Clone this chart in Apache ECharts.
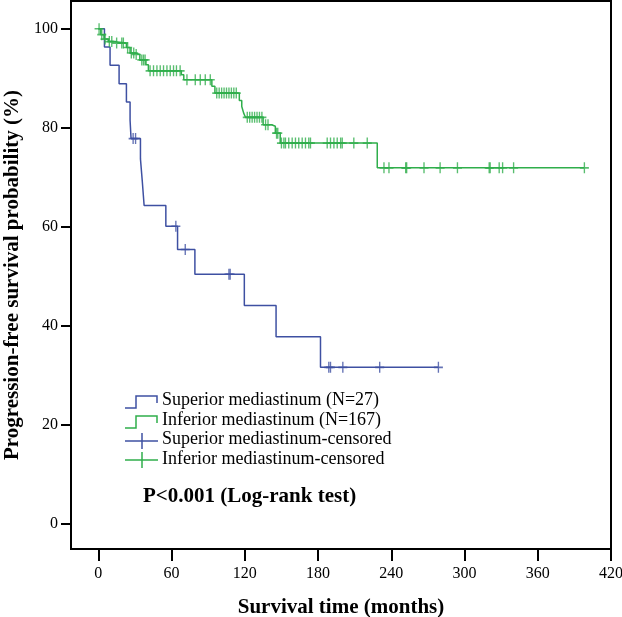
<!DOCTYPE html>
<html>
<head>
<meta charset="utf-8">
<script src="https://cdn.jsdelivr.net/npm/echarts@6/dist/echarts.min.js"></script>
<style>
html,body{margin:0;padding:0;background:#fff;}
#c{width:622px;height:617px;}
</style>
</head>
<body>
<div id="c"></div>
<script>
// ---- data (months, survival %) ----
const xTicks = [0, 60, 120, 180, 240, 300, 360, 420];
const yTicks = [0, 20, 40, 60, 80, 100];

// Superior mediastinum (N=27): event times and survival after each event
const supTimes = [0, 5, 9.6, 17, 23, 26, 26.8, 34.5, 36, 37.5, 55.3, 64.9, 79.1, 119.6, 145.6, 182];
const supSurv  = [100, 96.3, 92.6, 88.9, 85.2, 81.5, 77.8, 73.7, 69.2, 64.3, 60.1, 55.4, 50.4, 44.1, 37.8, 31.6];
const supCensored = [28.5, 30.5, 63.5, 71.2, 107, 108, 188.8, 190.2, 200.3, 230.5, 278.6];

// Inferior mediastinum (N=167)
const infTimes = [0, 2, 4.7, 8.2, 12, 23, 26, 30, 34, 39, 41, 68, 70, 93, 95.5, 115.5, 117.5, 119, 120.5, 135, 142, 145, 149, 228.5];
const infSurv  = [100, 98.8, 97.9, 97.4, 97.1, 96.2, 95.1, 94.8, 93.7, 92.7, 91.5, 90.7, 89.7, 88.4, 87.0, 85.5, 84.3, 83.0, 82.1, 80.6, 80.3, 78.9, 76.9, 71.9];
const infCensored = [0.6, 2.8, 5.5, 9, 11, 15, 19.2, 20.5, 24, 27, 29, 31, 35.6, 37, 38.3,
  42.4, 45.2, 48, 50.7, 53.4, 56.2, 58.9, 61.6, 64, 67,
  72.6, 79.4, 83.5, 87.6, 91.7,
  97, 99, 101, 103, 105, 107, 109, 111, 113,
  122, 124, 126, 128, 130, 132, 134, 137, 139, 146, 147,
  150, 152, 153.3, 156, 158.8, 161.5, 164.2, 167, 169.7, 172.4, 173.8,
  187.5, 190.2, 193, 195.7, 198.5, 199.8, 209.3, 220.3,
  234, 238.1, 251.8, 252.6, 266.8, 280, 294.2, 320.2, 321, 328.4, 331.2, 340.2, 398.2];

const BLUE = '#3E50A2';
const GREEN = '#2FAE4B';
const FONT = "'Liberation Serif', 'Times New Roman', serif";

function survAt(times, surv, t) {
  let v = surv[0];
  for (let i = 0; i < times.length; i++) { if (times[i] <= t) v = surv[i]; }
  return v;
}
function stepData(times, surv, censored) {
  const d = times.map((t, i) => [t, surv[i]]);
  const last = Math.max(times[times.length - 1], censored[censored.length - 1]);
  d.push([last, surv[surv.length - 1]]);
  return d;
}
function censorData(times, surv, censored) {
  return censored.map(t => [t, survAt(times, surv, t)]);
}

const plus = 'path://M5,0L5,10M0,5L10,5';

const chart = echarts.init(document.getElementById('c'), null, {renderer: 'canvas'});
chart.setOption({
  animation: false,
  backgroundColor: '#fff',
  grid: {left: 71, right: 11, top: 1, bottom: 68, show: true, borderColor: '#000', borderWidth: 2,
         backgroundColor: 'transparent', outerBoundsMode: 'none', containLabel: false},
  xAxis: {
    type: 'value', min: -22.4, max: 420,
    name: 'Survival time (months)', nameLocation: 'middle', nameGap: 48,
    nameTextStyle: {fontFamily: FONT, fontSize: 21, fontWeight: 'bold', color: '#000'},
    axisLine: {onZero: false, lineStyle: {color: '#000', width: 2}},
    axisTick: {show: true, length: 12, customValues: xTicks, lineStyle: {color: '#000', width: 2}},
    axisLabel: {customValues: xTicks, margin: 17, fontFamily: FONT, fontSize: 16, color: '#000'},
    splitLine: {show: false}
  },
  yAxis: {
    type: 'value', min: -5.1, max: 105.6,
    name: 'Progression-free survival probability (%)', nameLocation: 'middle', nameGap: 48, nameRotate: 90,
    nameTextStyle: {fontFamily: FONT, fontSize: 21, fontWeight: 'bold', color: '#000'},
    axisLine: {onZero: false, lineStyle: {color: '#000', width: 2}},
    axisTick: {show: true, length: 10, customValues: yTicks, lineStyle: {color: '#000', width: 2}},
    axisLabel: {customValues: yTicks, margin: 13, fontFamily: FONT, fontSize: 16, color: '#000'},
    splitLine: {show: false}
  },
  series: [
    {type: 'line', step: 'end', data: stepData(supTimes, supSurv, supCensored), showSymbol: false, lineStyle: {color: BLUE, width: 1.5}, z: 3},
    {type: 'line', step: 'end', data: stepData(infTimes, infSurv, infCensored), showSymbol: false, lineStyle: {color: GREEN, width: 1.5}, z: 3},
    {type: 'scatter', data: censorData(supTimes, supSurv, supCensored), symbol: plus, symbolSize: [9, 11], itemStyle: {color: 'none', borderColor: BLUE, borderWidth: 1.5}, z: 4},
    {type: 'scatter', data: censorData(infTimes, infSurv, infCensored), symbol: plus, symbolSize: [9, 11], itemStyle: {color: 'none', borderColor: GREEN, borderWidth: 1.5}, z: 4}
  ],
  graphic: [
    // legend icons
    {type: 'polyline', shape: {points: [[125, 408], [136, 408], [136, 396], [157, 396], [157, 403]]}, style: {stroke: BLUE, lineWidth: 1.5, fill: null}},
    {type: 'polyline', shape: {points: [[125, 428], [136, 428], [136, 416], [157, 416], [157, 423]]}, style: {stroke: GREEN, lineWidth: 1.5, fill: null}},
    {type: 'line', shape: {x1: 125, y1: 441, x2: 158, y2: 441}, style: {stroke: BLUE, lineWidth: 1.5}},
    {type: 'line', shape: {x1: 142, y1: 433, x2: 142, y2: 449}, style: {stroke: BLUE, lineWidth: 1.5}},
    {type: 'line', shape: {x1: 125, y1: 460, x2: 158, y2: 460}, style: {stroke: GREEN, lineWidth: 1.5}},
    {type: 'line', shape: {x1: 142, y1: 452, x2: 142, y2: 468}, style: {stroke: GREEN, lineWidth: 1.5}},
    // legend texts
    {type: 'text', left: 162, top: 391, style: {text: 'Superior mediastinum (N=27)', font: '18px ' + FONT, fill: '#000'}},
    {type: 'text', left: 162, top: 411, style: {text: 'Inferior mediastinum (N=167)', font: '18px ' + FONT, fill: '#000'}},
    {type: 'text', left: 162, top: 430, style: {text: 'Superior mediastinum-censored', font: '18px ' + FONT, fill: '#000'}},
    {type: 'text', left: 162, top: 450, style: {text: 'Inferior mediastinum-censored', font: '18px ' + FONT, fill: '#000'}},
    {type: 'text', left: 143, top: 486, style: {text: 'P<0.001 (Log-rank test)', font: 'bold 21px ' + FONT, fill: '#000'}}
  ]
});
</script>
</body>
</html>
